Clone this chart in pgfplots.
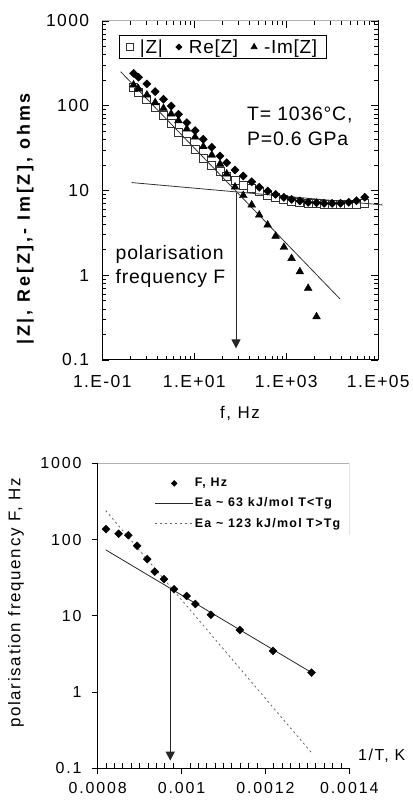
\documentclass[border=0pt]{standalone}
\usepackage{fontspec}
\setmainfont{Liberation Sans}[LetterSpace=4]
\newfontfamily\tickfont{Liberation Sans}[LetterSpace=8]
\newfontfamily\tickfontb{Liberation Sans}[LetterSpace=12]
\newfontfamily\labfont{Liberation Sans}[LetterSpace=10]
\newfontfamily\boldlab{Liberation Sans}[LetterSpace=16]
\usepackage{pgfplots}
\pgfplotsset{compat=1.18}
\usetikzlibrary{arrows.meta}

\pgfplotsset{
  legsq/.style={legend image code/.code={\draw[mark repeat=2,mark phase=2,##1,mark size=3.3bp] plot coordinates {(0bp,0bp) (5bp,0bp) (10bp,0bp)};}},
  legdia/.style={legend image code/.code={\draw[mark repeat=2,mark phase=2,##1,mark size=2.1bp] plot coordinates {(0bp,0bp) (5bp,0bp) (10bp,0bp)};}},
  legtri/.style={legend image code/.code={\draw[mark repeat=2,mark phase=2,##1,mark size=3.4bp] plot coordinates {(0bp,0bp) (5bp,0bp) (10bp,0bp)};}},
  legdiab/.style={legend image code/.code={\draw[mark repeat=2,mark phase=2,##1,mark size=2.1bp] plot coordinates {(0bp,0bp) (18.8bp,0bp) (37.6bp,0bp)};}},
  legline/.style={legend image code/.code={\draw[##1] (0bp,0bp) -- (37.6bp,0bp);}},
}

\pgfplotstableread{
f       absZ   ReZ
0.478   164    241
0.612   145    217
0.933   119    181
1.41    96.6   147
2.14    77.8   119
3.14    62.6   99.3
4.52    49.0   79.3
6.88    38.4   63.1
10.4    30.1   50.8
15.7    24.2   40.2
24.0    19.7   32.4
36.3    16.8   25.5
50.7    14.8   21.3
76.7    13.1   17.5
116     11.6   14.8
177     10.6   12.7
258     9.73   10.9
393     8.85   9.86
586     8.31   9.02
887     7.87   8.31
1303    7.52   7.87
1972    7.26   7.52
2985    7.06   7.26
4540    6.99   7.18
6637    6.93   7.06
9900    6.93   7.06
15070   6.93   7.06
22800   6.93   7.26
33500   6.93   7.58
50700   7.03   8.31
}\impdata

\pgfplotstableread{
f       ImZ
0.478   176
0.612   158
0.933   134
1.41    109
2.14    93.3
3.14    80.0
4.52    66.7
6.88    53.2
10.4    42.8
15.7    33.0
24.0    26.2
36.3    20.5
50.7    15.7
76.7    11.0
116     8.73
177     6.75
258     5.14
393     3.92
586     2.90
887     2.14
1303    1.58
1972    1.10
2985    0.702
4540    0.324
}\imdata

\pgfplotstableread{
invT      F
0.000820  137
0.000850  119
0.000873  114
0.000894  82.7
0.000918  55.3
0.000936  38.0
0.000958  30.2
0.000982  22.3
0.001012  18.2
0.001033  14.3
0.001070  10.3
0.001139  6.53
0.001218  3.46
0.001310  1.80
}\fdata

\begin{document}
\begin{tikzpicture}
\useasboundingbox (0,0) rectangle (413bp,805bp);

% ---------------- top plot ----------------
\begin{axis}[
  at={(102.3bp,445bp)}, anchor=south west,
  scale only axis, width=276bp, height=339bp,
  xmode=log, ymode=log,
  xmin=0.1, xmax=100000, ymin=0.1, ymax=1000,
  clip=false,
  xtick={0.1,10,1000,100000},
  xticklabels={1.E-01,1.E+01,1.E+03,1.E+05},
  minor xtick={0.4,0.9,1.6,2.5,3.6,4.9,6.4,8.1,40,90,160,250,360,490,640,810,4000,9000,16000,25000,36000,49000,64000,81000},
  ytick={0.1,1,10,100,1000},
  yticklabels={0.1,1,10,100,1000},
  minor ytick={0.2,0.3,0.4,0.5,0.6,0.7,0.8,0.9,2,3,4,5,6,7,8,9,20,30,40,50,60,70,80,90,200,300,400,500,600,700,800,900},
  tick align=inside, major tick length=7bp, minor tick length=4bp,
  tick style={black, line width=0.8bp},
  axis line style={black, line width=1bp},
  /pgf/number format/assume math mode=true,
  xticklabel style={font={\tickfont\fontsize{17.5}{20}\selectfont}, inner sep=0pt, anchor=north, yshift=-15bp},
  yticklabel style={font={\tickfont\fontsize{17.5}{20}\selectfont}, inner sep=0pt, anchor=east, xshift=-13bp},
  xlabel={f, Hz},
  xlabel style={font={\labfont\fontsize{17}{20}\selectfont}, at={(axis description cs:0.499,-0.159)}, anchor=center},
  ylabel={|Z|, Re[Z],- Im[Z], ohms},
  ylabel style={font={\boldlab\bfseries\fontsize{18}{20}\selectfont}, at={(axis description cs:-0.2475,0.416)}, anchor=south, inner sep=0pt},
  legend columns=3,
  legend style={at={(axis description cs:0.0605,0.9587)}, anchor=north west,
    draw=black, line width=0.8bp, inner xsep=7bp, inner ysep=2bp,
    font=\fontsize{19}{22}\selectfont, nodes={inner sep=2bp},
    /tikz/every odd column/.append style={column sep=5bp},
    /tikz/every even column/.append style={column sep=11bp}},
]
\addplot[black!80, line width=0.8bp, forget plot] coordinates {(0.251,252) (14700,0.525)};
\addplot[black!80, line width=0.8bp, forget plot] coordinates {(0.436,12.4) (124800,6.75)};
\addplot[black!85, line width=0.9bp, -{Triangle[width=9bp,length=9bp]}, forget plot] coordinates {(80.7,9.33) (80.7,0.137)};

\addplot[only marks, mark=square, mark size=4bp, black!80, mark options={line width=0.9bp}, legsq]
  table[x=f, y=absZ] {\impdata};
\addlegendentry{|Z|}
\addplot[only marks, mark=square*, mark size=2.9bp, black, mark options={rotate=45, fill=black}, legdia]
  table[x=f, y=ReZ] {\impdata};
\addlegendentry{Re[Z]}
\addplot[only marks, mark=triangle*, mark size=4.5bp, black, mark options={fill=black}, legtri]
  table[x=f, y=ImZ] {\imdata};
\addlegendentry{-Im[Z]}

\draw[gray!60, line width=1bp] (rel axis cs:0,1) -- (rel axis cs:1,1);
\node[anchor=base west, inner sep=0pt, font=\fontsize{19.5}{22}\selectfont] at (rel axis cs:0.5243,0.705) {T= 1036°C,};
\node[anchor=base west, inner sep=0pt, font=\fontsize{19.5}{22}\selectfont] at (rel axis cs:0.5243,0.634) {P=0.6 GPa};
\node[anchor=base west, inner sep=0pt, font=\fontsize{19.5}{22}\selectfont] at (rel axis cs:0.0478,0.297) {polarisation};
\node[anchor=base west, inner sep=0pt, font=\fontsize{19.5}{22}\selectfont] at (rel axis cs:0.0478,0.226) {frequency F};
\end{axis}

% ---------------- bottom plot ----------------
\begin{axis}[
  at={(97.7bp,36.7bp)}, anchor=south west,
  scale only axis, width=251.6bp, height=305bp,
  ymode=log,
  xmin=0.0008, xmax=0.0014, ymin=0.1, ymax=1000,
  axis x line*=bottom, axis y line*=left,
  xtick={0.0008,0.001,0.0012,0.0014},
  xticklabels={0.0008,0.001,0.0012,0.0014},
  scaled x ticks=false,
  minor x tick num=9,
  ytick={0.1,1,10,100,1000},
  yticklabels={0.1,1,10,100,1000},
  yminorticks=false,
  tick align=outside, major tick length=6bp, minor tick length=5bp,
  every minor tick/.append style={yshift=5bp},
  tick style={black, line width=0.8bp},
  axis line style={black, line width=1bp},
  /pgf/number format/assume math mode=true,
  xticklabel style={font={\tickfontb\fontsize{16}{18}\selectfont}, inner sep=0pt, anchor=north, yshift=-8bp},
  yticklabel style={font={\tickfontb\fontsize{16}{18}\selectfont}, inner sep=0pt, anchor=east, xshift=-10bp},
  xlabel={1/T, K},
  xlabel style={font={\labfont\fontsize{16}{18}\selectfont}, at={(axis description cs:1.0346,0.04)}, anchor=west, inner sep=0pt},
  ylabel={polarisation frequency F, Hz},
  ylabel style={font={\labfont\fontsize{17}{20}\selectfont}, at={(axis description cs:-0.293,0.542)}, anchor=south, inner sep=0pt},
  legend cell align=left,
  reverse legend,
  legend style={at={(axis description cs:0.2270,0.956)}, anchor=north west,
    draw=none, fill=none, inner sep=0pt, row sep=6.5bp,
    font={\labfont\bfseries\fontsize{12.5}{14}\selectfont}, nodes={inner sep=1.5bp}},
]
\addplot[black!60, line width=0.8bp, dash pattern=on 2bp off 3bp, legline]
  coordinates {(0.000819,240) (0.00131,0.160)};
\addlegendentry{Ea \textasciitilde{} 123 kJ/mol T>Tg}
\addplot[black!85, line width=0.8bp, legline]
  coordinates {(0.000819,73.3) (0.00131,1.80)};
\addlegendentry{Ea \textasciitilde{} 63 kJ/mol T<Tg}
\addplot[black!85, line width=0.9bp, -{Triangle[width=9bp,length=9bp]}, forget plot]
  coordinates {(0.000973,22.3) (0.000973,0.126)};
\addplot[only marks, mark=square*, mark size=2.8bp, black, mark options={rotate=45, fill=black}, legdiab]
  table[x=invT, y=F] {\fdata};
\addlegendentry{F, Hz}

\draw[gray!60, line width=1bp] (rel axis cs:0,1) -- (rel axis cs:1,1);
\draw[gray!60, line width=1bp] (rel axis cs:1,1) -- (rel axis cs:1,0.765);
\end{axis}
\end{tikzpicture}
\end{document}
